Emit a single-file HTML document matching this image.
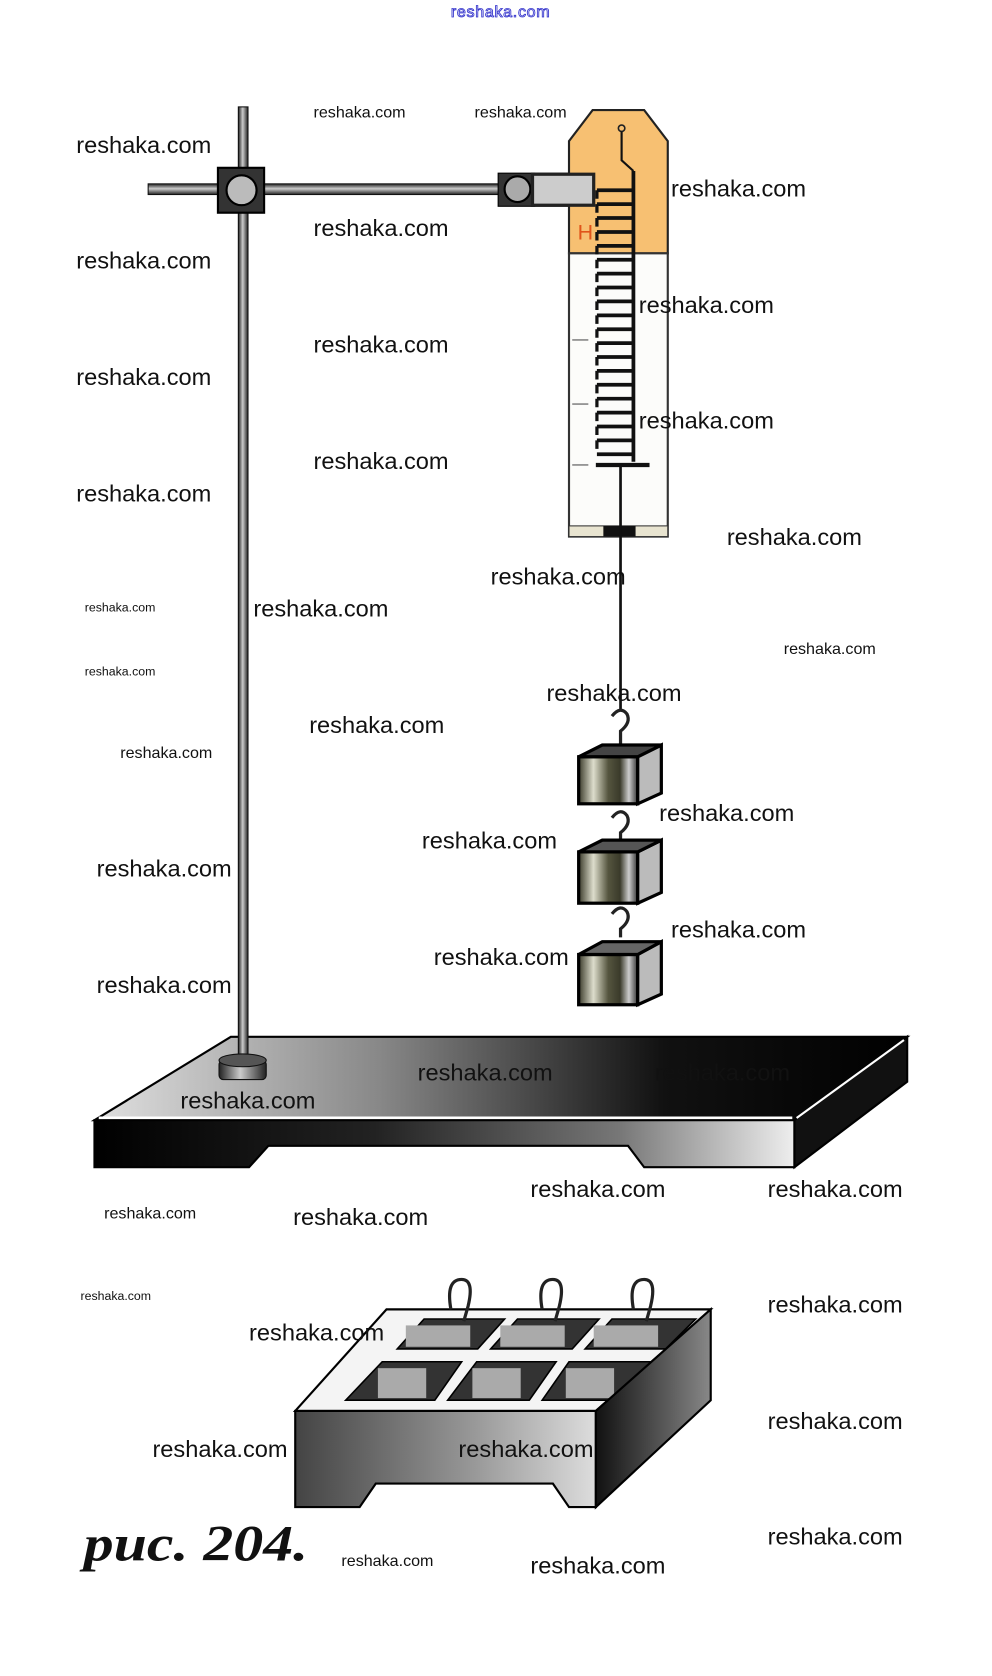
<!DOCTYPE html>
<html><head><meta charset="utf-8"><style>
html,body{margin:0;padding:0;background:#fff;}
svg{display:block}
.L{font-family:"Liberation Sans",sans-serif;font-size:22px;fill:#111}
.S{font-family:"Liberation Sans",sans-serif;font-size:15px;fill:#111}
.T{font-family:"Liberation Sans",sans-serif;font-size:11.5px;fill:#111}
</style></head><body>
<svg width="992" height="1676" viewBox="0 0 924 1568" preserveAspectRatio="none" xmlns="http://www.w3.org/2000/svg">
<defs>
<linearGradient id="rod" x1="0" x2="1" y1="0" y2="0"><stop offset="0" stop-color="#222"/><stop offset=".45" stop-color="#ccc"/><stop offset="1" stop-color="#222"/></linearGradient>
<linearGradient id="rodh" x1="0" x2="0" y1="0" y2="1"><stop offset="0" stop-color="#222"/><stop offset=".45" stop-color="#ccc"/><stop offset="1" stop-color="#222"/></linearGradient>
<linearGradient id="top" x1="0" x2="1" y1="0" y2="0"><stop offset="0" stop-color="#e0e0e0"/><stop offset=".35" stop-color="#888"/><stop offset=".7" stop-color="#111"/><stop offset="1" stop-color="#000"/></linearGradient>
<linearGradient id="front" x1="0" x2="1" y1="0" y2="0"><stop offset="0" stop-color="#000"/><stop offset=".4" stop-color="#222"/><stop offset=".75" stop-color="#777"/><stop offset="1" stop-color="#eee"/></linearGradient>
<linearGradient id="wt" x1="0" x2="1" y1="0" y2="0"><stop offset="0" stop-color="#3a3a2a"/><stop offset=".25" stop-color="#ddddcc"/><stop offset=".5" stop-color="#55553f"/><stop offset=".7" stop-color="#3a3a2a"/><stop offset=".85" stop-color="#ccc"/><stop offset="1" stop-color="#333"/></linearGradient>
<linearGradient id="box" x1="0" x2="1" y1="0" y2="0"><stop offset="0" stop-color="#444"/><stop offset=".6" stop-color="#999"/><stop offset="1" stop-color="#ddd"/></linearGradient>
<linearGradient id="side" x1="0" x2="1" y1="0" y2="0"><stop offset="0" stop-color="#111"/><stop offset="1" stop-color="#888"/></linearGradient>
</defs>

<text x="420" y="16" font-family="Liberation Sans,sans-serif" font-size="15" fill="#fff" stroke="#3333cc" stroke-width="0.8" textLength="92">reshaka.com</text>

<!-- platform -->
<polygon points="215,970 845,970 740,1048 88,1048" fill="url(#top)" stroke="#000" stroke-width="2"/>
<line x1="92" y1="1046" x2="738" y2="1046" stroke="#fff" stroke-width="3"/>
<polygon points="88,1048 740,1048 740,1092 600,1092 585,1072 250,1072 232,1092 88,1092" fill="url(#front)" stroke="#000" stroke-width="2"/>
<polygon points="740,1048 845,970 845,1012 740,1092" fill="#111" stroke="#000" stroke-width="2"/>
<line x1="742" y1="1046" x2="842" y2="973" stroke="#fff" stroke-width="2"/>

<!-- stand -->
<rect x="222" y="100" width="9" height="900" fill="url(#rod)" stroke="#111" stroke-width="1"/>
<rect x="204" y="992" width="44" height="18" rx="4" fill="url(#rod)" stroke="#111"/>
<ellipse cx="226" cy="992" rx="22" ry="6" fill="#555" stroke="#111"/>
<rect x="138" y="172" width="332" height="10" fill="url(#rodh)" stroke="#111" stroke-width="1"/>
<rect x="203" y="157" width="43" height="42" fill="#333" stroke="#000" stroke-width="2"/>
<circle cx="225" cy="178" r="14" fill="#bbb" stroke="#000" stroke-width="2"/>
<rect x="496" y="163" width="57" height="29" fill="#ccc" stroke="#222" stroke-width="3"/>
<rect x="464" y="162" width="34" height="31" fill="#333" stroke="#000"/>
<circle cx="482" cy="177" r="12" fill="#aaa" stroke="#000" stroke-width="2"/>

<!-- dynamometer -->
<polygon points="552,103 600,103 622,132 622,237 530,237 530,132" fill="#f7c072" stroke="#222" stroke-width="2"/>
<rect x="530" y="237" width="92" height="265" fill="#fcfcfa" stroke="#333" stroke-width="2"/>
<rect x="530" y="492" width="92" height="10" fill="#e8e4d0" stroke="#333"/>
<rect x="562" y="492" width="30" height="10" fill="#111"/>
<rect x="496" y="163" width="57" height="29" fill="#ccc" stroke="#222" stroke-width="3"/>
<text x="538" y="224" font-family="Liberation Sans,sans-serif" font-size="20" fill="#e0541a">H</text>
<circle cx="579" cy="120" r="3" fill="none" stroke="#222" stroke-width="1.5"/>
<path d="M579,123 L579,150 L590,160" stroke="#111" stroke-width="2" fill="none"/>
<path d="M555,435 L605,435" stroke="#111" stroke-width="4"/>
<g stroke="#111" stroke-width="3.5" fill="none">
<path d="M590,160 L590,432"/>
<path d="M556,178 h34 M556,191 h34 M556,204 h34 M556,217 h34 M556,230 h34 M556,243 h34 M556,256 h34 M556,269 h34 M556,282 h34 M556,295 h34 M556,308 h34 M556,321 h34 M556,334 h34 M556,347 h34 M556,360 h34 M556,373 h34 M556,386 h34 M556,399 h34 M556,412 h34 M556,425 h34"/>
<path d="M556,178 V425" stroke-width="3" stroke-dasharray="8 5"/>
</g>
<g stroke="#888" stroke-width="1.5"><path d="M533,318 h15 M533,378 h15 M533,435 h15"/></g>

<!-- string and weights -->
<line x1="578" y1="435" x2="578" y2="665" stroke="#111" stroke-width="2.5"/>
<g fill="none" stroke="#222" stroke-width="3">
<path d="M570,670 q8,-10 14,-2 q4,8 -6,16 l0,12"/>
<path d="M570,765 q8,-10 14,-2 q4,8 -6,16 l0,8"/>
<path d="M570,855 q8,-10 14,-2 q4,8 -6,16 l0,8"/>
</g>
<g stroke="#000" stroke-width="3">
<rect x="539" y="708" width="55" height="44" fill="url(#wt)"/>
<polygon points="594,708 616,697 616,742 594,752" fill="#bbb"/>
<polygon points="539,708 561,697 616,697 594,708" fill="#444"/>
<rect x="539" y="797" width="55" height="48" fill="url(#wt)"/>
<polygon points="594,797 616,786 616,835 594,845" fill="#bbb"/>
<polygon points="539,797 561,786 616,786 594,797" fill="#555"/>
<rect x="539" y="893" width="55" height="47" fill="url(#wt)"/>
<polygon points="594,893 616,881 616,930 594,940" fill="#bbb"/>
<polygon points="539,893 561,881 616,881 594,893" fill="#666"/>
</g>

<!-- weight box -->
<polygon points="360,1225 662,1225 555,1320 275,1320" fill="#f4f4f4" stroke="#000" stroke-width="2"/>
<g fill="#333" stroke="#000" stroke-width="1.5">
<polygon points="395,1234 470,1234 445,1262 370,1262"/>
<polygon points="482,1234 558,1234 533,1262 457,1262"/>
<polygon points="570,1234 648,1234 620,1262 545,1262"/>
<polygon points="356,1274 430,1274 405,1310 322,1310"/>
<polygon points="444,1274 518,1274 493,1310 417,1310"/>
<polygon points="530,1274 610,1274 582,1310 505,1310"/>
</g>
<g fill="#aaa"><rect x="378" y="1240" width="60" height="20"/><rect x="466" y="1240" width="60" height="20"/><rect x="553" y="1240" width="60" height="20"/>
<rect x="352" y="1280" width="45" height="28"/><rect x="440" y="1280" width="45" height="28"/><rect x="527" y="1280" width="45" height="28"/></g>
<g fill="none" stroke="#222" stroke-width="3">
<path d="M420,1225 q-5,-28 10,-28 q12,0 6,25 l-4,14"/>
<path d="M505,1225 q-5,-28 10,-28 q12,0 6,25 l-4,14"/>
<path d="M590,1225 q-5,-28 10,-28 q12,0 6,25 l-4,14"/>
</g>
<polygon points="275,1320 555,1320 555,1410 530,1410 515,1388 350,1388 335,1410 275,1410" fill="url(#box)" stroke="#000" stroke-width="2"/>
<polygon points="555,1320 662,1225 662,1310 555,1410" fill="url(#side)" stroke="#000" stroke-width="2"/>

<text x="78" y="1460" font-family="Liberation Serif,serif" font-style="italic" font-weight="bold" font-size="48" fill="#111" textLength="209" lengthAdjust="spacingAndGlyphs">рис. 204.</text>

<g class="S"><text x="292" y="110">reshaka.com</text><text x="442" y="110">reshaka.com</text><text x="730" y="612">reshaka.com</text><text x="112" y="709">reshaka.com</text><text x="97" y="1140">reshaka.com</text><text x="318" y="1465">reshaka.com</text></g>
<g class="T"><text x="79" y="572">reshaka.com</text><text x="79" y="632">reshaka.com</text><text x="75" y="1216">reshaka.com</text></g>
<g class="L">
<text x="71" y="143">reshaka.com</text>
<text x="625" y="184">reshaka.com</text>
<text x="292" y="221">reshaka.com</text>
<text x="71" y="251">reshaka.com</text>
<text x="595" y="293">reshaka.com</text>
<text x="292" y="330">reshaka.com</text>
<text x="71" y="360">reshaka.com</text>
<text x="595" y="401">reshaka.com</text>
<text x="292" y="439">reshaka.com</text>
<text x="71" y="469">reshaka.com</text>
<text x="677" y="510">reshaka.com</text>
<text x="457" y="547">reshaka.com</text>
<text x="236" y="577">reshaka.com</text>
<text x="509" y="656">reshaka.com</text>
<text x="288" y="686">reshaka.com</text>
<text x="614" y="768">reshaka.com</text>
<text x="393" y="794">reshaka.com</text>
<text x="90" y="820">reshaka.com</text>
<text x="625" y="877">reshaka.com</text>
<text x="404" y="903">reshaka.com</text>
<text x="90" y="929">reshaka.com</text>
<text x="389" y="1011">reshaka.com</text>
<text x="610" y="1011">reshaka.com</text>
<text x="168" y="1037">reshaka.com</text>
<text x="494" y="1120">reshaka.com</text>
<text x="715" y="1120">reshaka.com</text>
<text x="273" y="1146">reshaka.com</text>
<text x="715" y="1228">reshaka.com</text>
<text x="232" y="1254">reshaka.com</text>
<text x="715" y="1337">reshaka.com</text>
<text x="142" y="1363">reshaka.com</text>
<text x="427" y="1363">reshaka.com</text>
<text x="715" y="1445">reshaka.com</text>
<text x="494" y="1472">reshaka.com</text>
</g>
</svg>
</body></html>
